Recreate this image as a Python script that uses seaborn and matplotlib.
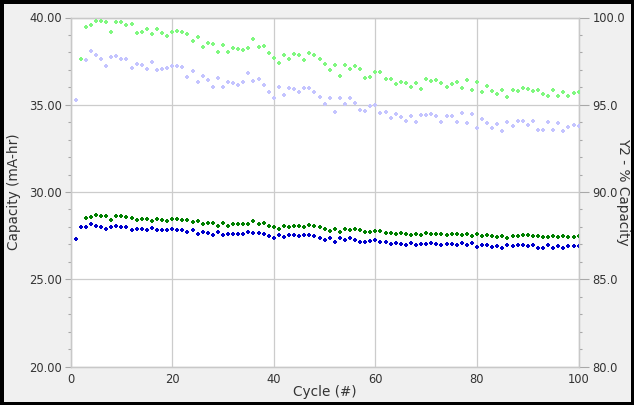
import numpy as np
import pandas as pd
import matplotlib
matplotlib.use("Agg")
import matplotlib.pyplot as plt
import seaborn as sns
from matplotlib.ticker import MultipleLocator, FormatStrFormatter

nan = np.nan
cycles = list(range(1, 101))

# Capacity (mA-hr), left axis
charge_capacity = [nan, 27.97,
    28.52, 28.54, 28.69, 28.62, 28.60, 28.41, 28.62, 28.60, 28.54, 28.52, 28.41, 28.43, 28.47, 28.35, 28.47,
    28.39, 28.35, 28.43, 28.45, 28.41, 28.39, 28.27, 28.33, 28.18, 28.24, 28.24, 28.08, 28.22, 28.08, 28.16, 28.14,
    28.14, 28.16, 28.31, 28.18, 28.20, 28.08, 27.99, 27.89, 28.03, 27.97, 28.06, 28.06, 27.97, 28.10, 28.03, 27.97,
    27.87, 27.78, 27.87, 27.70, 27.87, 27.82, 27.87, 27.83, 27.68, 27.68, 27.78, 27.78, 27.66, 27.66, 27.57, 27.63,
    27.61, 27.52,
    27.61, 27.53, 27.66, 27.62, 27.62, 27.59, 27.55, 27.57, 27.62, 27.51, 27.62, 27.49, 27.61, 27.45, 27.53, 27.47,
    27.41, 27.49, 27.36, 27.49, 27.47, 27.51, 27.51, 27.45, 27.49, 27.40, 27.40, 27.47, 27.40, 27.45, 27.40, 27.43,
    27.45]
discharge_capacity = [27.30, 27.97,
    27.97, 28.14, 28.06, 27.97, 27.87, 28.01, 28.05, 27.97, 27.97, 27.82, 27.89, 27.89, 27.82, 27.93, 27.80,
    27.80, 27.82, 27.89, 27.85, 27.85, 27.68, 27.80, 27.61, 27.72, 27.65, 27.53, 27.70, 27.53, 27.61, 27.58, 27.57,
    27.57, 27.72, 27.63, 27.65, 27.57, 27.45, 27.36, 27.53, 27.41, 27.51, 27.51, 27.45, 27.51, 27.51, 27.45, 27.36,
    27.26, 27.36, 27.11, 27.36, 27.24, 27.34, 27.26, 27.15, 27.11, 27.22, 27.24, 27.11, 27.11, 27.01, 27.07, 27.02,
    26.97, 27.06,
    26.94, 27.03, 27.03, 27.07, 27.03, 26.96, 27.03, 27.03, 26.96, 27.09, 26.94, 27.09, 26.84, 26.99, 26.94, 26.84,
    26.90, 26.77, 26.97, 26.92, 26.97, 26.96, 26.92, 26.97, 26.80, 26.80, 26.97, 26.80, 26.92, 26.78, 26.88, 26.88,
    26.88]

# Y2 - % Capacity, right axis
charge_pct = [nan, 97.60,
    99.44, 99.57, 99.80, 99.78, 99.74, 99.19, 99.72, 99.74, 99.57, 99.63, 99.13, 99.19, 99.32, 99.07, 99.32,
    99.09, 98.96, 99.15, 99.24, 99.19, 99.07, 98.63, 98.90, 98.29, 98.52, 98.50, 98.00, 98.44, 98.02, 98.23, 98.17,
    98.16, 98.23, 98.77, 98.29, 98.38, 97.98, 97.70, 97.37, 97.85, 97.60, 97.93, 97.85, 97.59, 97.96, 97.85, 97.64,
    97.31, 96.99, 97.30, 96.63, 97.26, 97.05, 97.22, 97.05, 96.51, 96.57, 96.86, 96.86, 96.45, 96.49, 96.17, 96.32,
    96.26, 96.00,
    96.23, 95.90, 96.45, 96.34, 96.40, 96.23, 96.03, 96.21, 96.32, 95.96, 96.40, 95.86, 96.28, 95.71, 96.09, 95.80,
    95.59, 95.84, 95.46, 95.82, 95.79, 95.96, 95.92, 95.79, 95.84, 95.59, 95.48, 95.84, 95.52, 95.75, 95.48, 95.67,
    95.73]
discharge_pct = [95.27, 97.60,
    97.56, 98.10, 97.87, 97.64, 97.24, 97.72, 97.81, 97.62, 97.64, 97.12, 97.33, 97.30, 97.07, 97.47, 96.99,
    97.03, 97.12, 97.24, 97.20, 97.14, 96.57, 96.93, 96.30, 96.66, 96.44, 96.01, 96.51, 96.01, 96.30, 96.23, 96.13,
    96.30, 96.84, 96.36, 96.47, 96.13, 95.73, 95.40, 96.01, 95.58, 95.96, 95.90, 95.73, 95.96, 95.94, 95.73, 95.42,
    95.06, 95.40, 94.60, 95.40, 95.06, 95.37, 95.10, 94.68, 94.64, 94.93, 94.98, 94.54, 94.60, 94.22, 94.45, 94.28,
    94.07, 94.33,
    93.99, 94.41, 94.43, 94.47, 94.35, 94.01, 94.35, 94.35, 93.99, 94.52, 93.95, 94.47, 93.68, 94.20, 93.95, 93.68,
    93.89, 93.51, 94.01, 93.80, 94.08, 94.05, 93.85, 94.05, 93.55, 93.55, 94.01, 93.55, 93.93, 93.51, 93.74, 93.82,
    93.78]

x_ticks = [0, 20, 40, 60, 80, 100]
y_left_ticks = [20, 25, 30, 35, 40]
y_right_ticks = [80, 85, 90, 95, 100]

df = pd.DataFrame({"cycle": cycles,
                   "charge_capacity": charge_capacity,
                   "discharge_capacity": discharge_capacity,
                   "charge_pct": charge_pct,
                   "discharge_pct": discharge_pct})

sns.set_style("white")
plt.rcParams["font.family"] = ["DejaVu Sans"]

W, H = 634, 405
fig = plt.figure(figsize=(W / 100, H / 100), dpi=100)
fig.patch.set_facecolor("#f0f0f0")
fig.patch.set_edgecolor("black")
fig.patch.set_linewidth(5)

x0, x1, yt, yb = 70.6, 578.6, 17.5, 366.5
ax = fig.add_axes([x0 / W, (H - yb) / H, (x1 - x0) / W, (yb - yt) / H])
ax.set_facecolor("white")
ax2 = ax.twinx()

mk = dict(marker="P", s=8, linewidth=0, legend=False)
sns.scatterplot(data=df, x="cycle", y="charge_capacity", ax=ax, color="#008000", zorder=3, **mk)
sns.scatterplot(data=df, x="cycle", y="discharge_capacity", ax=ax, color="#0000cc", zorder=4, **mk)
sns.scatterplot(data=df, x="cycle", y="discharge_pct", ax=ax2, color="#c4c4ff", zorder=3, **mk)
sns.scatterplot(data=df, x="cycle", y="charge_pct", ax=ax2, color="#80f880", zorder=4, **mk)

ax.set_xlim(0, 100)
ax.set_ylim(20, 40)
ax2.set_ylim(80, 100)
ax.set_xticks(x_ticks)
ax.set_yticks(y_left_ticks)
ax2.set_yticks(y_right_ticks)
ax.xaxis.set_minor_locator(MultipleLocator(5))
ax.yaxis.set_minor_locator(MultipleLocator(1))
ax2.yaxis.set_minor_locator(MultipleLocator(1))
ax.yaxis.set_major_formatter(FormatStrFormatter("%.2f"))
ax2.yaxis.set_major_formatter(FormatStrFormatter("%.1f"))

ax.grid(True, which="major", color="#cccccc", linewidth=0.9)
ax.set_axisbelow(True)
for a in (ax, ax2):
    for sp in a.spines.values():
        sp.set_color("#c8c8c8")
        sp.set_linewidth(0.9)

tick_kw = dict(colors="#a8a8a8", labelcolor="#333333", labelsize=8.3, direction="out")
ax.tick_params(axis="both", which="major", length=4, width=0.8, pad=2, **tick_kw)
ax.tick_params(axis="both", which="minor", length=2.5, width=0.8, **tick_kw)
ax.tick_params(axis="x", which="major", length=0, pad=5)
ax2.tick_params(axis="y", which="major", length=7, width=0.8, pad=3, **tick_kw)
ax2.tick_params(axis="y", which="minor", length=2.5, width=0.8, **tick_kw)

lab = dict(fontsize=9.8, color="#333333")
ax.set_xlabel("Cycle (#)", **lab)
ax.xaxis.set_label_coords(0.5, -0.054)
ax.set_ylabel("Capacity (mA-hr)", **lab)
ax.yaxis.set_label_coords(-0.097, 0.5)
ax2.set_ylabel("Y2 - % Capacity", rotation=270, va="bottom", **lab)
ax2.yaxis.set_label_coords(1.073, 0.5)

fig.savefig("out.png", dpi=100, facecolor=fig.get_facecolor(), edgecolor="black")
